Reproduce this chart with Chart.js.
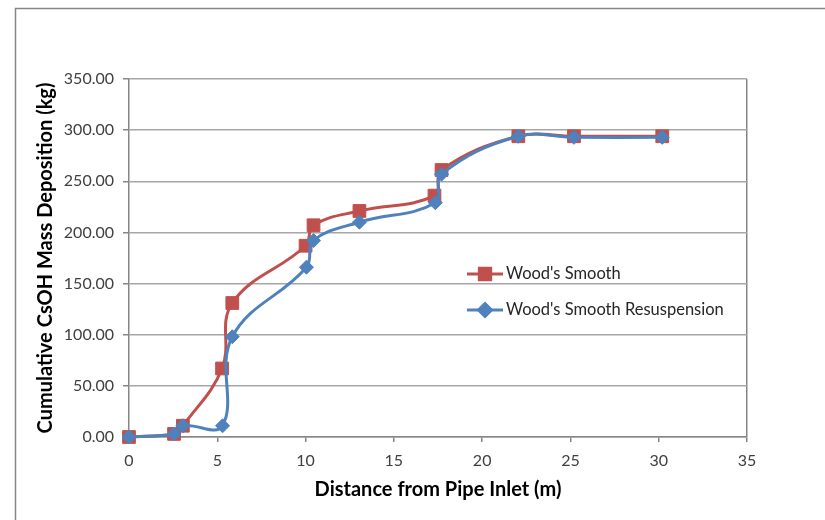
<!DOCTYPE html>
<html>
<head>
<meta charset="utf-8">
<style>
  html, body { margin: 0; padding: 0; background: #fff; }
  canvas { display: block; }
</style>
<script src="https://cdn.jsdelivr.net/npm/chart.js@4/dist/chart.umd.min.js"></script>
</head>
<body>
<canvas id="chart" width="825" height="520"></canvas>
<script>
  // distance from pipe inlet (m) and cumulative deposition (kg)
  const smoothX = [0, 2.55, 3.05, 5.27, 5.85, 10.0, 10.45, 13.05, 17.3, 17.7, 22.05, 25.2, 30.2];
  const smoothY = [0, 3, 11, 67, 131, 187, 207, 221, 236, 261, 294, 294, 294];
  const resuspX = [0, 2.55, 3.05, 5.3, 5.85, 10.05, 10.45, 13.05, 17.35, 17.7, 22.05, 25.2, 30.2];
  const resuspY = [0, 3, 11, 11, 98, 166, 192, 210, 229, 257, 294, 293, 293];
  const seriesNames = ["Wood's Smooth", "Wood's Smooth Resuspension"];

  const RED = "#C0504D";
  const BLUE = "#4F81BD";
  const GRID = "#A6A6A6";
  const AXIS = "#868686";
  const FONT = "Lato, 'Liberation Sans', sans-serif";

  const toPoints = (xs, ys) => xs.map((x, i) => ({ x, y: ys[i] }));

  // outer chart frame (top and left edges visible in the crop)
  const framePlugin = {
    id: "frame",
    beforeDraw(chart) {
      const ctx = chart.ctx;
      ctx.save();
      ctx.strokeStyle = AXIS;
      ctx.lineWidth = 1.5;
      ctx.beginPath();
      ctx.moveTo(15.5, chart.height);
      ctx.lineTo(15.5, 8.5);
      ctx.lineTo(chart.width, 8.5);
      ctx.stroke();
      ctx.restore();
    }
  };

  // legend drawn inside the plot, like the original
  const legendPlugin = {
    id: "insideLegend",
    afterDraw(chart) {
      const ctx = chart.ctx;
      const rows = [
        { label: seriesNames[0], color: RED, style: "rect", radius: 8, y: 274 },
        { label: seriesNames[1], color: BLUE, style: "rectRot", radius: 6.5, y: 310 }
      ];
      ctx.save();
      rows.forEach((row) => {
        ctx.strokeStyle = row.color;
        ctx.lineWidth = 3;
        ctx.beginPath();
        ctx.moveTo(467, row.y);
        ctx.lineTo(503, row.y);
        ctx.stroke();
        ctx.fillStyle = row.color;
        Chart.helpers.drawPoint(ctx, { pointStyle: row.style, radius: row.radius, borderWidth: 1 }, 485, row.y);
        ctx.fill();
        ctx.fillStyle = "#262626";
        ctx.font = `16.5px ${FONT}`;
        ctx.textAlign = "left";
        ctx.textBaseline = "middle";
        ctx.fillText(row.label, 506, row.y);
      });
      ctx.restore();
    }
  };

  new Chart(document.getElementById("chart"), {
    type: "scatter",
    data: {
      datasets: [
        {
          label: seriesNames[0],
          data: toPoints(smoothX, smoothY),
          showLine: true,
          borderColor: RED,
          backgroundColor: RED,
          borderWidth: 3,
          pointStyle: "rect",
          pointRadius: 9,
          pointBorderWidth: 1,
          tension: 0.4,
          clip: 12,
          order: 1
        },
        {
          label: seriesNames[1],
          data: toPoints(resuspX, resuspY),
          showLine: true,
          borderColor: BLUE,
          backgroundColor: BLUE,
          borderWidth: 3,
          pointStyle: "rectRot",
          pointRadius: 7,
          pointBorderWidth: 1,
          tension: 0.4,
          clip: 12,
          order: 0
        }
      ]
    },
    options: {
      responsive: false,
      animation: false,
      layout: { padding: { top: 79, right: 78, left: 0, bottom: 0 } },
      plugins: {
        legend: { display: false },
        tooltip: { enabled: false }
      },
      scales: {
        x: {
          type: "linear",
          min: 0,
          max: 35,
          afterFit: (scale) => { scale.height = 83; },
          ticks: { stepSize: 5, color: "#404040", font: { family: FONT, size: 16 }, padding: 9 },
          grid: {
            color: (c) => (c.tick && c.tick.value === 35 ? AXIS : "transparent"),
            tickColor: AXIS,
            tickLength: 5,
            lineWidth: 1.5
          },
          border: { color: AXIS, width: 1.5 },
          title: {
            display: true,
            text: "Distance from Pipe Inlet (m)",
            color: "#000",
            font: { family: FONT, size: 20, weight: "bold" },
            padding: { top: 0, bottom: 18 }
          }
        },
        y: {
          min: 0,
          max: 350,
          afterFit: (scale) => { scale.width = 129; },
          ticks: {
            stepSize: 50,
            color: "#404040",
            font: { family: FONT, size: 16 },
            padding: 9,
            callback: (v) => Number(v).toFixed(2)
          },
          grid: { color: GRID, tickColor: AXIS, tickLength: 6, lineWidth: 1.5 },
          border: { color: AXIS, width: 1.5 },
          title: {
            display: true,
            text: "Cumulative CsOH Mass Deposition (kg)",
            color: "#000",
            font: { family: FONT, size: 20, weight: "bold" },
            padding: { top: 34, bottom: 0 }
          }
        }
      }
    },
    plugins: [framePlugin, legendPlugin]
  });
</script>
</body>
</html>
